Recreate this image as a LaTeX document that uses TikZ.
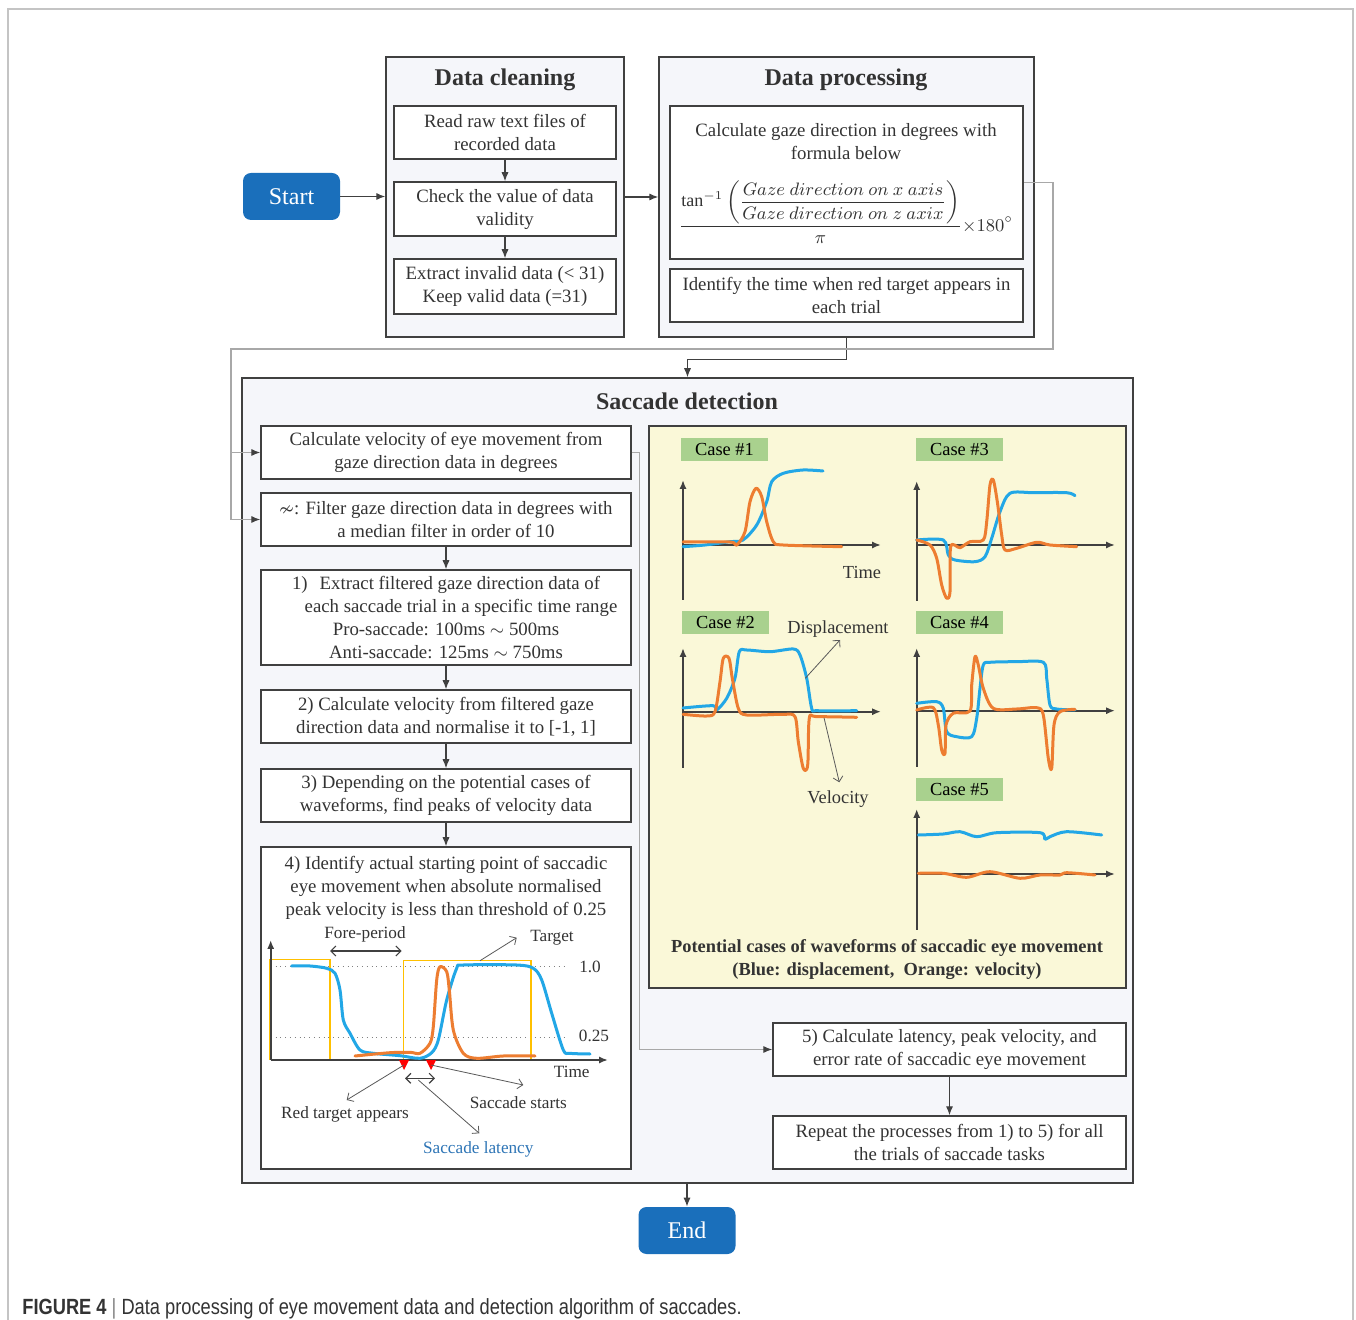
\documentclass[tikz,border=0pt]{standalone}
\usepackage{amsmath,amssymb}
\usepackage{fontspec}
\setmainfont{Liberation Serif}
\newfontfamily\capfont[FakeStretch=0.83]{Liberation Sans}
\usepackage{tikz}
\usetikzlibrary{arrows.meta}

\definecolor{txtgray}{HTML}{333333}
\definecolor{edgegray}{HTML}{404040}
\definecolor{fbgray}{HTML}{A8A8A8}
\definecolor{notegray}{HTML}{595959}
\definecolor{grpfill}{HTML}{F5F6FA}
\definecolor{panelfill}{HTML}{FAF8D8}
\definecolor{casegreen}{HTML}{A9D18E}
\definecolor{termblue}{HTML}{1A6FBB}
\definecolor{dispblue}{HTML}{22A7E6}
\definecolor{veloorange}{HTML}{ED7D31}
\definecolor{latblue}{HTML}{2E75B6}
\definecolor{tgtyellow}{HTML}{FFC000}
\definecolor{framegray}{HTML}{C4C4C4}

\begin{document}
\begin{tikzpicture}[x=0.5pt,y=0.5pt,yscale=-1,xscale=1,
  grp/.style={draw=edgegray,fill=grpfill,line width=0.75pt,inner sep=0pt},
  box/.style={draw=edgegray,fill=white,line width=0.75pt,inner sep=0pt,text=txtgray,align=center,font=\fontsize{9.4}{11.5}\selectfont},
  txt/.style={text=txtgray,inner sep=0pt,align=center,font=\fontsize{9.4}{11.5}\selectfont},
  ttl/.style={text=txtgray,inner sep=0pt,font=\bfseries\fontsize{12}{14}\selectfont},
  term/.style={fill=termblue,rounded corners=4pt,text=white,inner sep=0pt,font=\fontsize{12}{14}\selectfont,minimum width=48.5pt,minimum height=23.5pt},
  lbl/.style={text=txtgray,inner sep=0pt,font=\fontsize{8.6}{10}\selectfont},
  casebox/.style={fill=casegreen,text=black,minimum width=43.5pt,minimum height=11.5pt,inner sep=0pt,font=\fontsize{9.2}{10}\selectfont},
  arr/.style={-{Latex[length=4.5pt,width=3.6pt]},draw=edgegray,line width=0.6pt},
  fb/.style={-{Latex[length=4.5pt,width=3.6pt,color=edgegray]},draw=fbgray,line width=0.6pt},
  note/.style={-{Straight Barb[length=2.5pt,width=5pt]},draw=notegray,line width=0.4pt},
  span/.style={{Straight Barb[length=2.5pt,width=5pt]}-{Straight Barb[length=2.5pt,width=5pt]},draw=edgegray,line width=0.6pt},
  ax/.style={-{Latex[length=4.5pt,width=3.6pt]},draw=edgegray,line width=0.9pt},
  disp/.style={draw=dispblue,line width=1.5pt,line join=round,line cap=round},
  velo/.style={draw=veloorange,line width=1.5pt,line join=round,line cap=round}]
\useasboundingbox (0,0) rectangle (1356,1320);

%Straight Lines: page frame
\draw[framegray,line width=0.8pt] (8,1320) -- (8,9) -- (1353,9) -- (1353,1320);

%Shape: Rounded Rect
\node[term] (start) at (291.5,196.5) {Start};
\node[term] (end) at (687,1230.5) {End};

%Shape: Rectangle -- data cleaning
\node[grp,minimum width=119pt,minimum height=140pt] (clean) at (505,197) {};
\node[ttl] (cleanttl) at (505,80) {Data cleaning};
\node[box,minimum width=111pt,minimum height=26.5pt] (readraw) at (505,132.5) {Read raw text files of\\recorded data};
\node[box,minimum width=111pt,minimum height=27pt] (checkval) at (505,209) {Check the value of data\\validity};
\node[box,minimum width=111pt,minimum height=27.5pt] (keepval) at (505,286.5) {Extract invalid data (< 31)\\Keep valid data (=31)};

%Shape: Rectangle -- data processing
\node[grp,minimum width=187.5pt,minimum height=140pt] (proc) at (846.5,197) {};
\node[ttl] (procttl) at (846,80) {Data processing};
\node[box,minimum width=176.5pt,minimum height=76.5pt] (form) at (846.5,182.5) {};
\node[txt] (formtxt) at (846,141.5) {Calculate gaze direction in degrees with\\formula below};
\node[txt,font=\fontsize{9}{11}\selectfont] (formula) at (846,212) {$\displaystyle\frac{\tan^{-1}\left(\dfrac{Gaze\ direction\ on\ x\ axis}{Gaze\ direction\ on\ z\ axix}\right)}{\pi}{\times}180^{\circ}$};
\node[box,minimum width=176.5pt,minimum height=26.5pt] (redtime) at (846.5,295.5) {Identify the time when red target appears in\\each trial};

%Shape: Rectangle -- saccade detection
\node[grp,minimum width=445.5pt,minimum height=402.5pt] (sacc) at (687.5,780.5) {};
\node[ttl] (saccttl) at (687,401) {Saccade detection};
\node[box,minimum width=185pt,minimum height=26.5pt] (calcvel) at (446,452.5) {Calculate velocity of eye movement from\\gaze direction data in degrees};
\node[box,minimum width=185pt,minimum height=26.5pt] (medfilt) at (446,519.5) {$\nsim$: Filter gaze direction data in degrees with\\a median filter in order of 10};
\node[box,minimum width=185pt,minimum height=47.5pt] (extract) at (446,617.5) {1)\hspace{6pt}Extract filtered gaze direction data of\\\hspace*{15pt}each saccade trial in a specific time range\\Pro-saccade: 100ms $\sim$ 500ms\\Anti-saccade: 125ms $\sim$ 750ms};
\node[box,minimum width=185pt,minimum height=26.5pt] (normvel) at (446,716.5) {2) Calculate velocity from filtered gaze\\direction data and normalise it to [-1, 1]};
\node[box,minimum width=185pt,minimum height=26.5pt] (findpeak) at (446,795.5) {3) Depending on the potential cases of\\waveforms, find peaks of velocity data};
\node[box,minimum width=185pt,minimum height=161pt] (startpt) at (446,1008) {};
\node[txt] (startpttxt) at (446,888) {4) Identify actual starting point of saccadic\\eye movement when absolute normalised\\peak velocity is less than threshold of 0.25};
\node[box,minimum width=176.5pt,minimum height=26.5pt] (latency) at (949.5,1049.5) {5) Calculate latency, peak velocity, and\\error rate of saccadic eye movement};
\node[box,minimum width=176.5pt,minimum height=26.5pt] (repeat) at (949.5,1142.5) {Repeat the processes from 1) to 5) for all\\the trials of saccade tasks};

%Shape: Rectangle -- waveform cases
\node[draw=edgegray,fill=panelfill,line width=0.75pt,minimum width=238.5pt,minimum height=281pt,inner sep=0pt] (cases) at (887.5,707) {};
\node[txt,font=\bfseries\fontsize{9.2}{11.5}\selectfont] (casesttl) at (887,959.5) {Potential cases of waveforms of saccadic eye movement\\(Blue: displacement,\ \ Orange: velocity)};

%Straight Lines
\draw[arr] (start.east) -- (start.east -| clean.west);
\draw[arr] (clean) -- (proc);
\draw[arr] (readraw) -- (checkval);
\draw[arr] (checkval) -- (keepval);
\draw[arr] (proc.south) -- ++(0,22) -| (sacc.north);
\coordinate (fbtop) at (231,349);
\draw[fb] (form.east) -| (1053,349) -- (fbtop) |- (medfilt.west);
\draw[fb] (fbtop |- calcvel.west) -- (calcvel.west);
\draw[fb] (calcvel.east) -- ++(8,0) |- (latency.west);
\draw[arr] (medfilt) -- (extract);
\draw[arr] (extract) -- (normvel);
\draw[arr] (normvel) -- (findpeak);
\draw[arr] (findpeak) -- (startpt);
\draw[arr] (latency) -- (repeat);
\draw[arr] (end.north |- sacc.south) -- (end.north);

%Case #1
\node[casebox] (case1) at (724.5,449.5) {Case \#1};
\draw[ax] (683,600) -- (683,480);
\draw[ax] (683,545) -- (881,545);
\draw[disp] plot[smooth,tension=0.5] coordinates {(683,546.7) (705,545) (730,541.7) (743,540) (756.7,525) (766.7,501.7) (771.7,481.7) (783.3,473.3) (803,470) (823,471)};
\draw[velo] plot[smooth,tension=0.5] coordinates {(683,542) (730,542) (736.7,545) (745,531.7) (750,501.7) (756,488.3) (761.7,496.7) (766.7,521.7) (773.3,541.7) (783,545) (841.7,546.7)};
\node[lbl,font=\fontsize{9.2}{10}\selectfont] (timelbl) at (862,573) {Time};

%Case #2
\node[casebox] (case2) at (725.5,623) {Case \#2};
\draw[ax] (683,768) -- (683,648);
\draw[ax] (683,711.7) -- (881,711.7);
\draw[disp] plot[smooth,tension=0.5] coordinates {(683,708) (713,705.7) (716.7,710) (726.7,698.3) (735,678) (739.3,651.7) (746.7,650) (770,651.7) (793.3,649) (800,655) (806.7,678.3) (811.7,708.3) (816.7,710.7) (856.7,710.7)};
\draw[velo] plot[smooth,tension=0.5] coordinates {(683,714.3) (706.7,716) (715,711.7) (720,681.7) (723.3,658.3) (729,658.3) (732.3,678.3) (738.3,708.3) (746.7,715) (783.3,714.3) (795,716.7) (798.3,741.7) (803.3,768.3) (807.7,765) (809.3,718.3) (816.7,716.7) (856.7,717.3)};
\node[lbl,font=\fontsize{9.2}{10}\selectfont] (displbl) at (838,629.5) {Displacement};
\node[lbl,font=\fontsize{9.2}{10}\selectfont] (velolbl) at (838,799) {Velocity};
\draw[note] (805.3,678.3) -- (840,640);
\draw[note] (824,717.7) -- (839.3,782.3);

%Case #3
\node[casebox] (case3) at (959.5,449.5) {Case \#3};
\draw[ax] (916.7,601) -- (916.7,481);
\draw[ax] (916.7,545) -- (1115,545);
\draw[disp] plot[smooth,tension=0.5] coordinates {(916.7,540) (943.3,540) (948.3,555) (955,560) (975,561.7) (985,556.7) (991.7,538.3) (1000,511.7) (1010,493.3) (1033.3,492.7) (1066.7,492.7) (1075,495.7)};
\draw[velo] plot[smooth,tension=0.5] coordinates {(916.7,540) (930,545) (936.7,558.3) (941.7,585) (946.7,598.3) (950,591.7) (950.7,546.7) (960,547.7) (970,541.7) (983.3,540) (986.7,521.7) (990,485) (993.3,480) (997.3,501.7) (1001.7,535) (1005,550) (1016.7,548.3) (1036.7,542.3) (1050,545) (1076.7,546.7)};

%Case #4
\node[casebox] (case4) at (959.5,623) {Case \#4};
\draw[ax] (916.7,767) -- (916.7,648);
\draw[ax] (916.7,710.7) -- (1115,710.7);
\draw[disp] plot[smooth,tension=0.5] coordinates {(916.7,703.3) (936.7,701.7) (943.3,708.3) (946.7,731.7) (956.7,736.7) (971.7,736.7) (976.7,718.3) (980,688.3) (983.3,665) (990,662.3) (1016.7,661.7) (1043.3,662.3) (1046.7,678.3) (1050,705) (1056.7,709) (1075,710)};
\draw[velo] plot[smooth,tension=0.5] coordinates {(916.7,710) (933.3,707.7) (938.3,725) (941.7,750) (945,753.3) (946,725) (953.3,713.3) (970,711) (971.7,685) (975,656.7) (978.3,665) (983.3,688.3) (993.3,708.3) (1016.7,709) (1036.7,707.7) (1043.3,715) (1048.3,758.3) (1051.7,768.3) (1054,725) (1060,711.7) (1075,709.3)};

%Case #5
\node[casebox] (case5) at (959.5,789.5) {Case \#5};
\draw[ax] (916.7,930) -- (916.7,809);
\draw[ax] (916.7,874) -- (1115,874);
\draw[disp] plot[smooth,tension=0.5] coordinates {(918.3,835) (943.3,834) (960,831.7) (976.7,836.7) (996.7,832.7) (1040,832.7) (1045,839.3) (1050,836.7) (1066.7,831.7) (1101.7,835)};
\draw[velo] plot[smooth,tension=0.5] coordinates {(918.3,873.3) (943.3,873.3) (966.7,877.3) (990,871.7) (1020,878.3) (1040,875) (1060,875) (1066.7,872.7) (1095,875)};

%Graph in step 4
\draw[gray,dotted,line width=0.4pt] (270.7,966) -- (565,966);
\draw[gray,dotted,line width=0.4pt] (270.7,1037.3) -- (565,1037.3);
\draw[tgtyellow,line width=0.6pt] (269.3,959.3) rectangle (330,1059.3);
\draw[tgtyellow,line width=0.6pt] (403.7,960.7) rectangle (531,1059.3);
\draw[ax] (270.7,1060) -- (270.7,940);
\draw[ax] (270.7,1060) -- (608,1060);
\draw[disp] plot[smooth,tension=0.5] coordinates {(291.7,966) (310,966) (326.7,968.3) (335,973.3) (340,990) (343.3,1020) (350,1033.3) (360,1050) (373.3,1053.3) (400,1055.7) (420,1058.3) (431.7,1052.7) (438.3,1040) (446.7,1000) (456.7,968.3) (463.3,965) (516.7,965) (533.3,968.3) (541.7,980) (551.7,1013.3) (563.3,1050) (570,1053.3) (590,1054)};
\draw[velo] plot[smooth,tension=0.5] coordinates {(355,1056) (390,1052.7) (410,1052.3) (420,1053.3) (430,1043.3) (433.3,1026.7) (436.7,980) (440,966.7) (446.7,971.7) (449.3,990) (453.3,1030) (463.3,1053.3) (476.7,1058.3) (503.3,1056) (535,1056)};
\coordinate (rt1) at (404,1065);
\coordinate (rt2) at (431,1065);
\fill[red] (399,1060) -- (409,1060) -- (404,1070) -- cycle;
\fill[red] (426,1060) -- (436,1060) -- (431,1070) -- cycle;

% Text Node
\node[lbl] (forelbl) at (365,934.3) {Fore-period};
\node[lbl] (tgtlbl) at (552,937.7) {Target};
\node[lbl] (onelbl) at (590,966.7) {1.0};
\node[lbl] (qtrlbl) at (594,1036) {0.25};
\node[lbl] (tlbl) at (571.7,1071.7) {Time};
\node[lbl] (rtlbl) at (345,1114) {Red target appears};
\node[lbl] (sslbl) at (518.3,1103) {Saccade starts};
\node[lbl,text=latblue] (latlbl) at (478.3,1149) {Saccade latency};

\draw[span] (330,951) -- (401.7,951);
\draw[span] (405,1078.3) -- (435,1078.3);
\draw[note] (480,960.7) -- (516.7,937.7);
\draw[note] (rt1) -- (346.7,1100);
\draw[note] (rt2) -- (523.3,1085);
\draw[note] (418.3,1080) -- (479.3,1133.3);

% Text Node: figure caption
\node[anchor=base west,inner sep=0pt,text=txtgray,font=\capfont\fontsize{11}{13}\selectfont] (figcap) at (22,1314) {\textbf{FIGURE 4}\ \textcolor{gray}{|}\ Data processing of eye movement data and detection algorithm of saccades.};

\end{tikzpicture}
\end{document}
